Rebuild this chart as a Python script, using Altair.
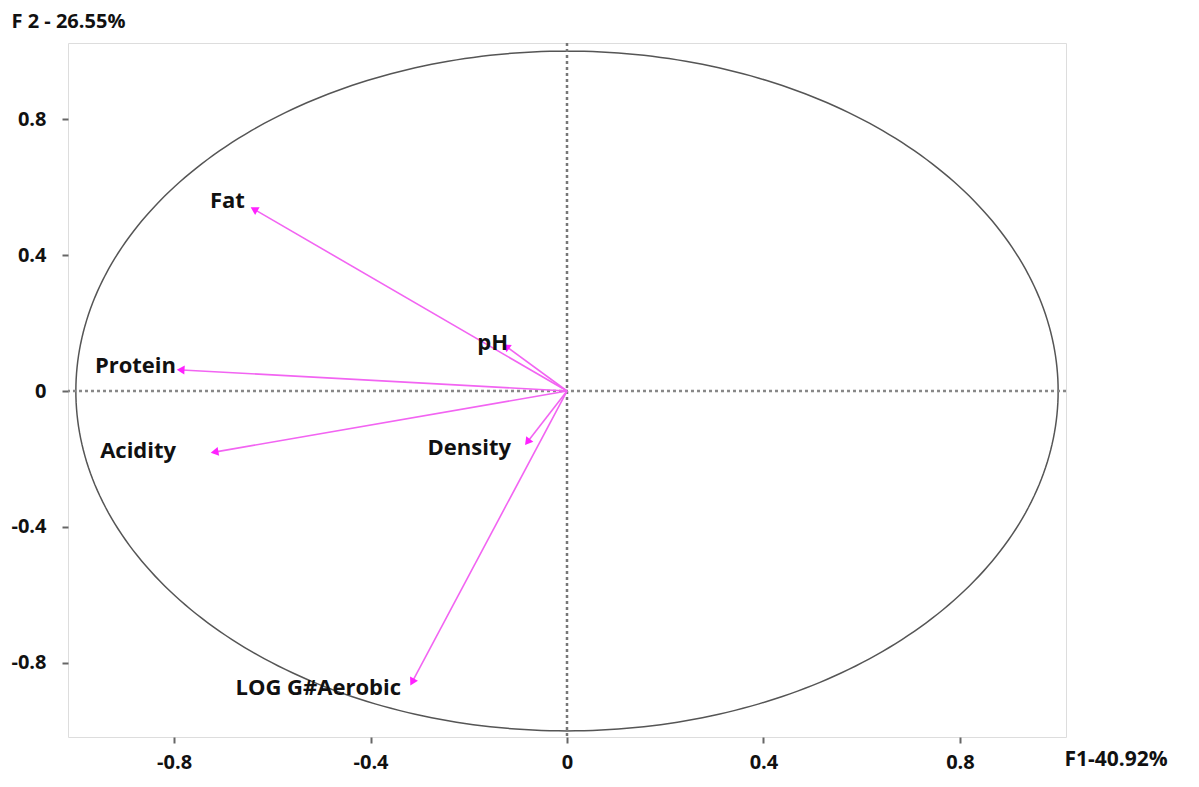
import math
import numpy as np
import pandas as pd
import altair as alt

# ---- data ----
variables = ["Fat", "pH", "Protein", "Acidity", "Density", "LOG G#Aerobic"]
f1_values = [-0.635, -0.122, -0.784, -0.715, -0.079, -0.314]
f2_values = [0.533, 0.129, 0.062, -0.179, -0.147, -0.853]
label_f1 = [-0.656, -0.120, -0.796, -0.796, -0.114, -0.338]
label_f2 = [0.559, 0.141, 0.074, -0.176, -0.168, -0.874]
x_ticks = [-0.8, -0.4, 0, 0.4, 0.8]
y_ticks = [-0.8, -0.4, 0, 0.4, 0.8]
x_title = "F1-40.92%"
y_title = "F 2 - 26.55%"

W, H = 998, 694
XD = [-1.016, 1.016]
YD = [-1.018, 1.024]
px_x = W / (XD[1] - XD[0])
px_y = H / (YD[1] - YD[0])

FONT = "Open Sans"
PINK = "#f264f2"
HEAD = "#ff22ff"

arrows = pd.DataFrame({
    "var": variables,
    "x0": [0.0] * len(variables),
    "y0": [0.0] * len(variables),
    "x": f1_values,
    "y": f2_values,
    "lx": label_f1,
    "ly": label_f2,
})
arrows["angle"] = [
    (math.degrees(math.atan2(x * px_x, y * px_y)) + 360) % 360
    for x, y in zip(f1_values, f2_values)
]

t = np.linspace(0, 2 * np.pi, 361)
circle = pd.DataFrame({"x": np.cos(t), "y": np.sin(t), "o": np.arange(len(t))})

xs = alt.Scale(domain=XD, nice=False, zero=False)
ys = alt.Scale(domain=YD, nice=False, zero=False)

LBL = "datum.value == 0 ? '0' : (datum.value < 0 ? '-' : '') + format(abs(datum.value), '.1f')"

x_axis = alt.Axis(
    values=x_ticks, grid=False, domain=False, tickColor="#666", tickSize=6, tickWidth=2,
    labelFont=FONT, labelFontSize=20, labelFontWeight="bold", labelColor="#111",
    labelPadding=9, labelExpr=LBL,
    title=x_title, titleFont=FONT, titleFontSize=21, titleFontWeight="bold", titleColor="#111",
    titleAnchor="start", titleAlign="left", titleBaseline="middle", titleX=W - 2, titleY=22,
)
y_axis = alt.Axis(
    values=y_ticks, grid=False, domain=False, tickColor="#666", tickSize=6, tickWidth=2,
    labelFont=FONT, labelFontSize=20, labelFontWeight="bold", labelColor="#111",
    labelPadding=16, labelExpr=LBL,
    title=y_title, titleFont=FONT, titleFontSize=20, titleFontWeight="bold", titleColor="#111",
    titleAngle=0, titleAnchor="start", titleAlign="left", titleBaseline="middle",
    titleX=-57, titleY=-22,
)

base_axes = alt.Chart(arrows).mark_point(opacity=0).encode(
    x=alt.X("x:Q", scale=xs, axis=x_axis),
    y=alt.Y("y:Q", scale=ys, axis=y_axis),
)

circ = alt.Chart(circle).mark_line(color="#555", strokeWidth=1.5).encode(
    x=alt.X("x:Q", scale=xs), y=alt.Y("y:Q", scale=ys), order="o:Q"
)

zero_df = pd.DataFrame({"v": [0.0]})
vline = alt.Chart(zero_df).mark_rule(color="#777", strokeWidth=2.5, strokeDash=[3, 3]).encode(
    x=alt.X("v:Q", scale=xs)
)
hline = alt.Chart(zero_df).mark_rule(color="#888", strokeWidth=2.5, strokeDash=[3, 3]).encode(
    y=alt.Y("v:Q", scale=ys)
)

lines = alt.Chart(arrows).mark_rule(color=PINK, strokeWidth=1.6).encode(
    x=alt.X("x0:Q", scale=xs), y=alt.Y("y0:Q", scale=ys), x2="x:Q", y2="y:Q"
)
heads = alt.Chart(arrows).mark_point(shape="triangle", filled=True, color=HEAD, size=80, opacity=1).encode(
    x=alt.X("x:Q", scale=xs), y=alt.Y("y:Q", scale=ys), angle=alt.Angle("angle:Q", scale=None)
)
labels = alt.Chart(arrows).mark_text(
    font=FONT, fontSize=22, fontWeight="bold", color="#111", align="right", baseline="middle"
).encode(x=alt.X("lx:Q", scale=xs), y=alt.Y("ly:Q", scale=ys), text="var:N")

chart = alt.layer(base_axes, circ, vline, hline, lines, heads, labels).properties(
    width=W, height=H,
    autosize=alt.AutoSizeParams(type="none"),
    padding={"left": 60, "top": 35, "right": 118, "bottom": 37},
).configure_view(stroke="#777", strokeWidth=2).configure(background="white")

chart.save("out.html", embed_options={"renderer": "svg", "actions": False})
